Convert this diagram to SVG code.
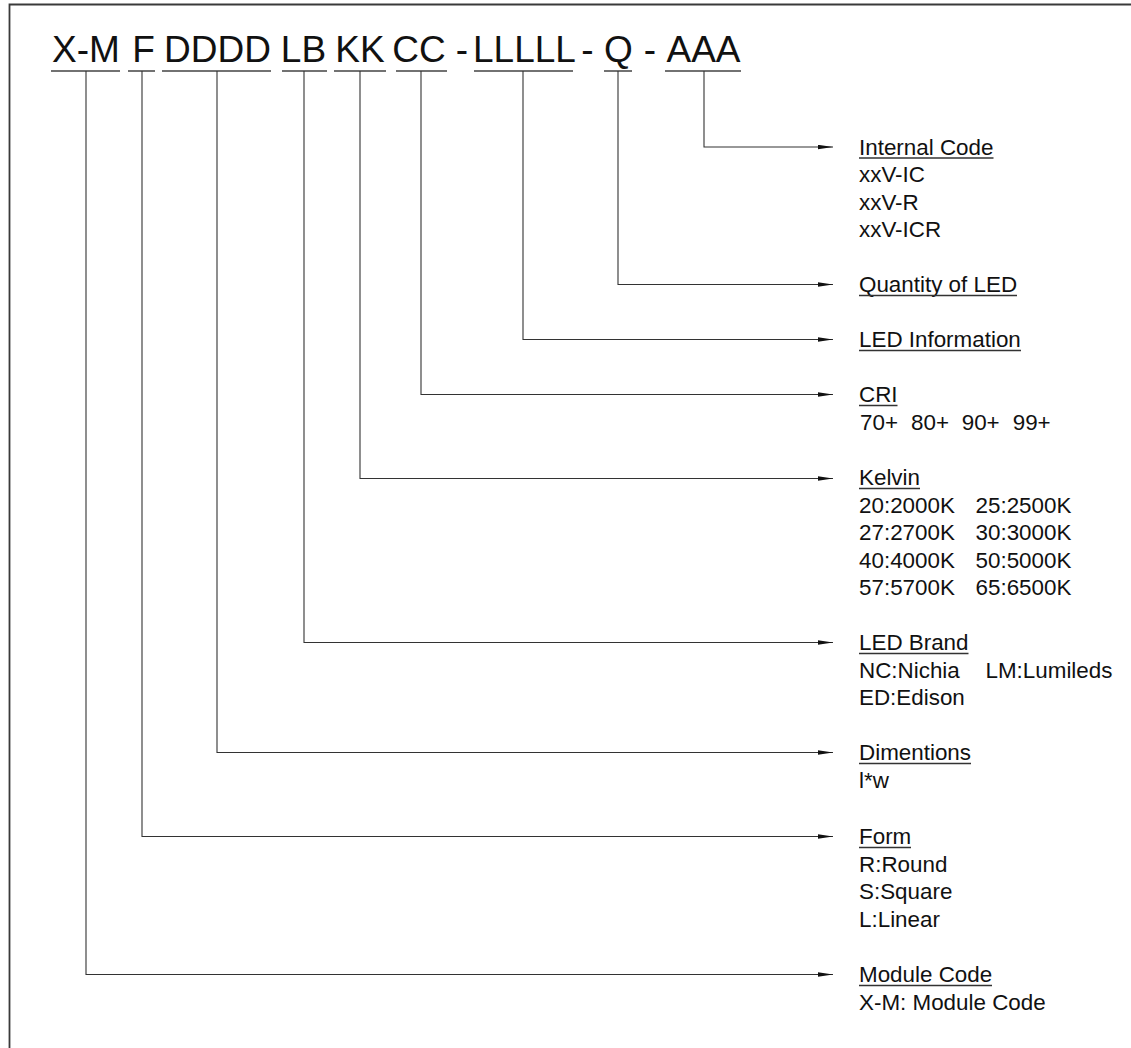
<svg xmlns="http://www.w3.org/2000/svg" width="1131" height="1048" viewBox="0 0 1131 1048">
<style>
.hdr{font-family:"Liberation Sans",Arial,sans-serif;font-size:37px;fill:#111;text-anchor:middle}
.lbl{font-family:"Liberation Sans",Arial,sans-serif;font-size:22.4px;fill:#111}
.ul{stroke:#333;stroke-width:1.4;fill:none}
.hul{stroke:#444;stroke-width:1.3;fill:none}
.con{stroke:#333;stroke-width:1.1;fill:none;marker-end:url(#ah)}
.frame{stroke:#3a3a3a;stroke-width:1.8;fill:none}
</style>
<defs>
<marker id="ah" markerUnits="userSpaceOnUse" markerWidth="16" markerHeight="6" refX="15" refY="2.5" orient="auto">
<path d="M0,0.3 L15,2.5 L0,4.7 Z" fill="#111"/>
</marker>
</defs>
<rect width="1131" height="1048" fill="#fff"/>
<path class="frame" d="M9.5,1048 V4.5 H1131"/>

<g id="code">
<text class="hdr" x="86" y="62">X-M</text>
<text class="hdr" x="143.5" y="62">F</text>
<text class="hdr" x="217.5" y="62">DDDD</text>
<text class="hdr" x="303.5" y="62">LB</text>
<text class="hdr" x="360" y="62">KK</text>
<text class="hdr" x="419" y="62">CC</text>
<text class="hdr" x="462" y="62">-</text>
<text class="hdr" x="524.5" y="62">LLLLL</text>
<text class="hdr" x="587.5" y="62">-</text>
<text class="hdr" x="618.5" y="62">Q</text>
<text class="hdr" x="650" y="62">-</text>
<text class="hdr" x="703.5" y="62">AAA</text>
<path class="hul" d="M51,71H120 M128,71H155 M162,71H271 M282,71H327 M334,71H386 M396,71H447 M474,71H573 M604,71H632 M665,71H741"/>
</g>

<g id="connectors">
<path class="con" d="M704,71 V147 H833"/>
<path class="con" d="M618,71 V284.5 H833"/>
<path class="con" d="M523,71 V339.5 H833"/>
<path class="con" d="M421,71 V394.5 H833"/>
<path class="con" d="M360,71 V478.5 H833"/>
<path class="con" d="M304,71 V642.5 H833"/>
<path class="con" d="M217,71 V752.5 H833"/>
<path class="con" d="M142,71 V836.5 H833"/>
<path class="con" d="M86,71 V974.5 H833"/>
</g>

<g id="internal-code">
<text class="lbl" x="859" y="154.5">Internal Code</text>
<path class="ul" d="M859,158H993.5"/>
<text class="lbl" x="859" y="182">xxV-IC</text>
<text class="lbl" x="859" y="209.5">xxV-R</text>
<text class="lbl" x="859" y="237">xxV-ICR</text>
</g>

<g id="quantity">
<text class="lbl" x="859" y="292">Quantity of LED</text>
<path class="ul" d="M859,295.5H1017"/>
</g>

<g id="led-info">
<text class="lbl" x="859" y="347">LED Information</text>
<path class="ul" d="M859,350.5H1021"/>
</g>

<g id="cri">
<text class="lbl" x="859" y="402">CRI</text>
<path class="ul" d="M859,405.5H897.5"/>
<text class="lbl" y="429.5"><tspan x="860">70+</tspan><tspan x="911">80+</tspan><tspan x="961.7">90+</tspan><tspan x="1012.7">99+</tspan></text>
</g>

<g id="kelvin">
<text class="lbl" x="859" y="485">Kelvin</text>
<path class="ul" d="M859,488.5H920"/>
<text class="lbl" y="512.5"><tspan x="859">20:2000K</tspan><tspan x="975.5">25:2500K</tspan></text>
<text class="lbl" y="540"><tspan x="859">27:2700K</tspan><tspan x="975.5">30:3000K</tspan></text>
<text class="lbl" y="567.5"><tspan x="859">40:4000K</tspan><tspan x="975.5">50:5000K</tspan></text>
<text class="lbl" y="595"><tspan x="859">57:5700K</tspan><tspan x="975.5">65:6500K</tspan></text>
</g>

<g id="led-brand">
<text class="lbl" x="859" y="650">LED Brand</text>
<path class="ul" d="M859,653.5H968.5"/>
<text class="lbl" y="677.5"><tspan x="859">NC:Nichia</tspan><tspan x="985.5">LM:Lumileds</tspan></text>
<text class="lbl" x="859" y="705">ED:Edison</text>
</g>

<g id="dimentions">
<text class="lbl" x="859" y="760">Dimentions</text>
<path class="ul" d="M859,763.5H971"/>
<text class="lbl" x="859" y="787.5">l*w</text>
</g>

<g id="form">
<text class="lbl" x="859" y="844">Form</text>
<path class="ul" d="M859,847.5H911"/>
<text class="lbl" x="859" y="871.5">R:Round</text>
<text class="lbl" x="859" y="899">S:Square</text>
<text class="lbl" x="859" y="926.5">L:Linear</text>
</g>

<g id="module-code">
<text class="lbl" x="859" y="982">Module Code</text>
<path class="ul" d="M859,985.5H992"/>
<text class="lbl" x="859" y="1009.5">X-M: Module Code</text>
</g>
</svg>
